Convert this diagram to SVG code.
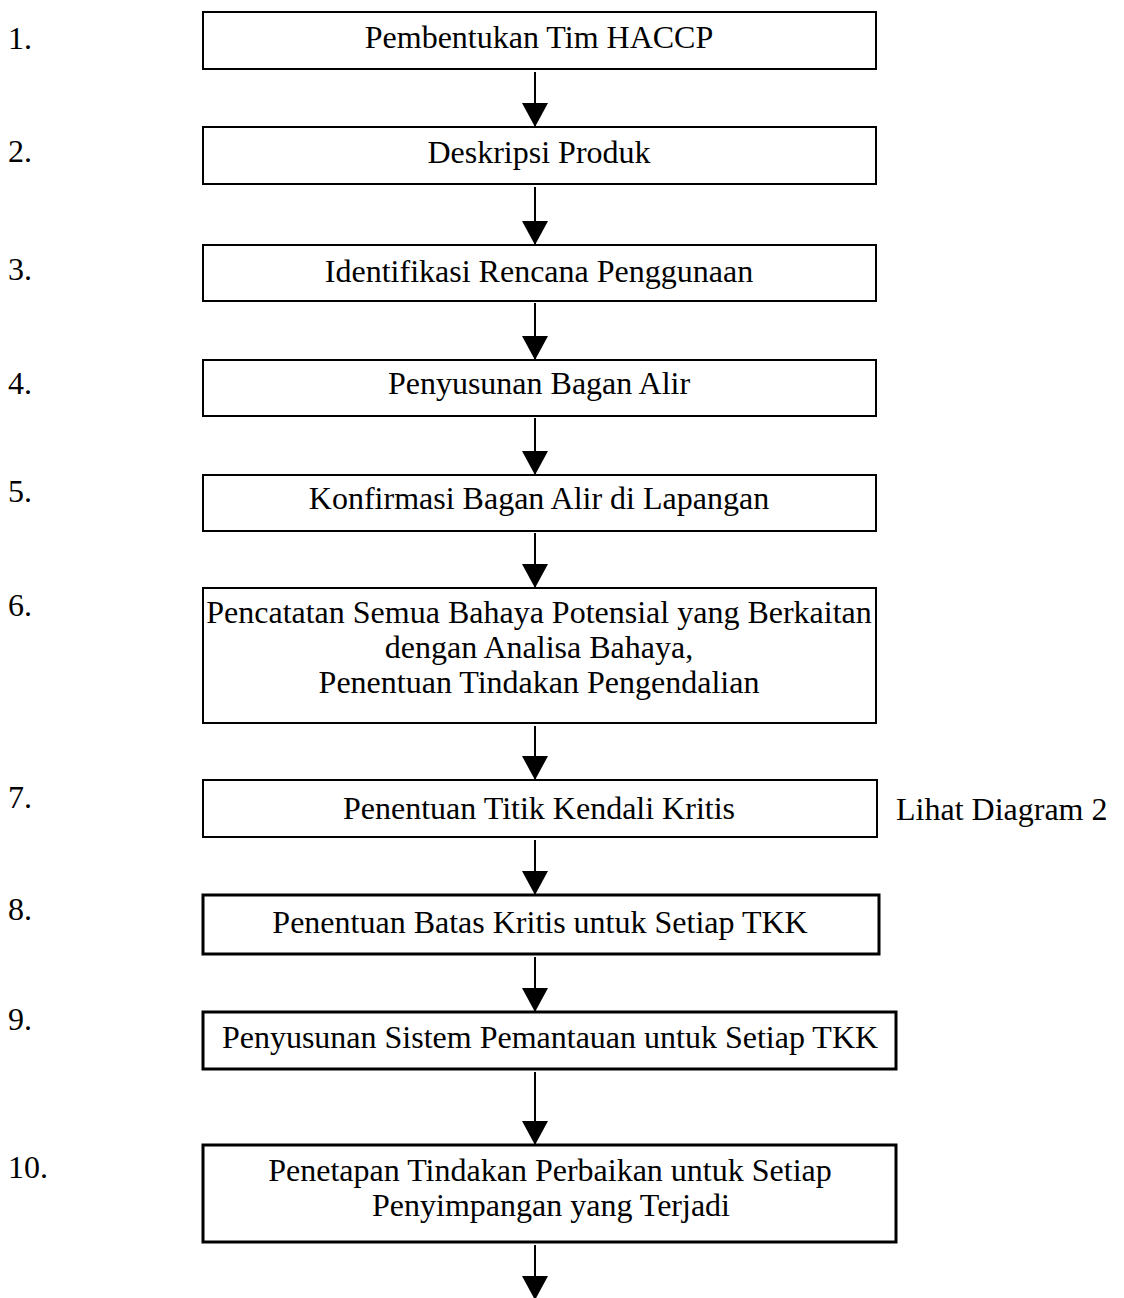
<svg xmlns="http://www.w3.org/2000/svg" width="1124" height="1298" viewBox="0 0 1124 1298">
  <style>
    text { font-family: "Liberation Serif", "Times New Roman", serif; font-size: 32px; fill: #000; }
    .c { text-anchor: middle; }
    .box { fill: #fff; stroke: #000; stroke-width: 2; }
    .box.thick { stroke-width: 3; }
    .flow { stroke: #000; stroke-width: 2; fill: none; marker-end: url(#head); }
  </style>
  <defs>
    <marker id="head" markerUnits="userSpaceOnUse" markerWidth="24" markerHeight="26" refX="24" refY="13" orient="auto" viewBox="0 0 24 26">
      <path d="M0,0 L24,13 L0,26 Z" fill="#000"/>
    </marker>
  </defs>

  <rect width="1124" height="1298" fill="#fff"/>

  <!-- step numbers -->
  <g id="numbers">
    <text x="8" y="49">1.</text>
    <text x="8" y="162">2.</text>
    <text x="8" y="280">3.</text>
    <text x="8" y="394">4.</text>
    <text x="8" y="502">5.</text>
    <text x="8" y="616">6.</text>
    <text x="8" y="808">7.</text>
    <text x="8" y="920">8.</text>
    <text x="8" y="1030">9.</text>
    <text x="8" y="1178">10.</text>
  </g>

  <!-- connectors -->
  <g id="connectors">
    <line class="flow" x1="535" y1="72" x2="535" y2="127"/>
    <line class="flow" x1="535" y1="187" x2="535" y2="245"/>
    <line class="flow" x1="535" y1="303" x2="535" y2="360"/>
    <line class="flow" x1="535" y1="418" x2="535" y2="475"/>
    <line class="flow" x1="535" y1="533" x2="535" y2="588"/>
    <line class="flow" x1="535" y1="726" x2="535" y2="780"/>
    <line class="flow" x1="535" y1="840" x2="535" y2="895"/>
    <line class="flow" x1="535" y1="957" x2="535" y2="1012"/>
    <line class="flow" x1="535" y1="1072" x2="535" y2="1145"/>
    <line class="flow" x1="535" y1="1245" x2="535" y2="1300"/>
  </g>

  <g id="step1">
    <rect class="box" x="203" y="12" width="673" height="57"/>
    <text class="c" x="539" y="48">Pembentukan Tim HACCP</text>
  </g>
  <g id="step2">
    <rect class="box" x="203" y="127" width="673" height="57"/>
    <text class="c" x="539" y="163">Deskripsi Produk</text>
  </g>
  <g id="step3">
    <rect class="box" x="203" y="245" width="673" height="56"/>
    <text class="c" x="539" y="282">Identifikasi Rencana Penggunaan</text>
  </g>
  <g id="step4">
    <rect class="box" x="203" y="360" width="673" height="56"/>
    <text class="c" x="539" y="394">Penyusunan Bagan Alir</text>
  </g>
  <g id="step5">
    <rect class="box" x="203" y="475" width="673" height="56"/>
    <text class="c" x="539" y="509">Konfirmasi Bagan Alir di Lapangan</text>
  </g>
  <g id="step6">
    <rect class="box" x="203" y="588" width="673" height="135"/>
    <text class="c" x="539" y="623">Pencatatan Semua Bahaya Potensial yang Berkaitan</text>
    <text class="c" x="539" y="658">dengan Analisa Bahaya,</text>
    <text class="c" x="539" y="693">Penentuan Tindakan Pengendalian</text>
  </g>
  <g id="step7">
    <rect class="box" x="203" y="780" width="674" height="57"/>
    <text class="c" x="539" y="819">Penentuan Titik Kendali Kritis</text>
  </g>
  <g id="note7">
    <text x="896" y="820">Lihat Diagram 2</text>
  </g>
  <g id="step8">
    <rect class="box thick" x="203" y="895" width="676" height="59"/>
    <text class="c" x="540" y="933">Penentuan Batas Kritis untuk Setiap TKK</text>
  </g>
  <g id="step9">
    <rect class="box thick" x="203" y="1012" width="693" height="57"/>
    <text class="c" x="550" y="1048">Penyusunan Sistem Pemantauan untuk Setiap TKK</text>
  </g>
  <g id="step10">
    <rect class="box thick" x="203" y="1145" width="693" height="97"/>
    <text class="c" x="550" y="1181">Penetapan Tindakan Perbaikan untuk Setiap</text>
    <text class="c" x="551" y="1216">Penyimpangan yang Terjadi</text>
  </g>
</svg>
